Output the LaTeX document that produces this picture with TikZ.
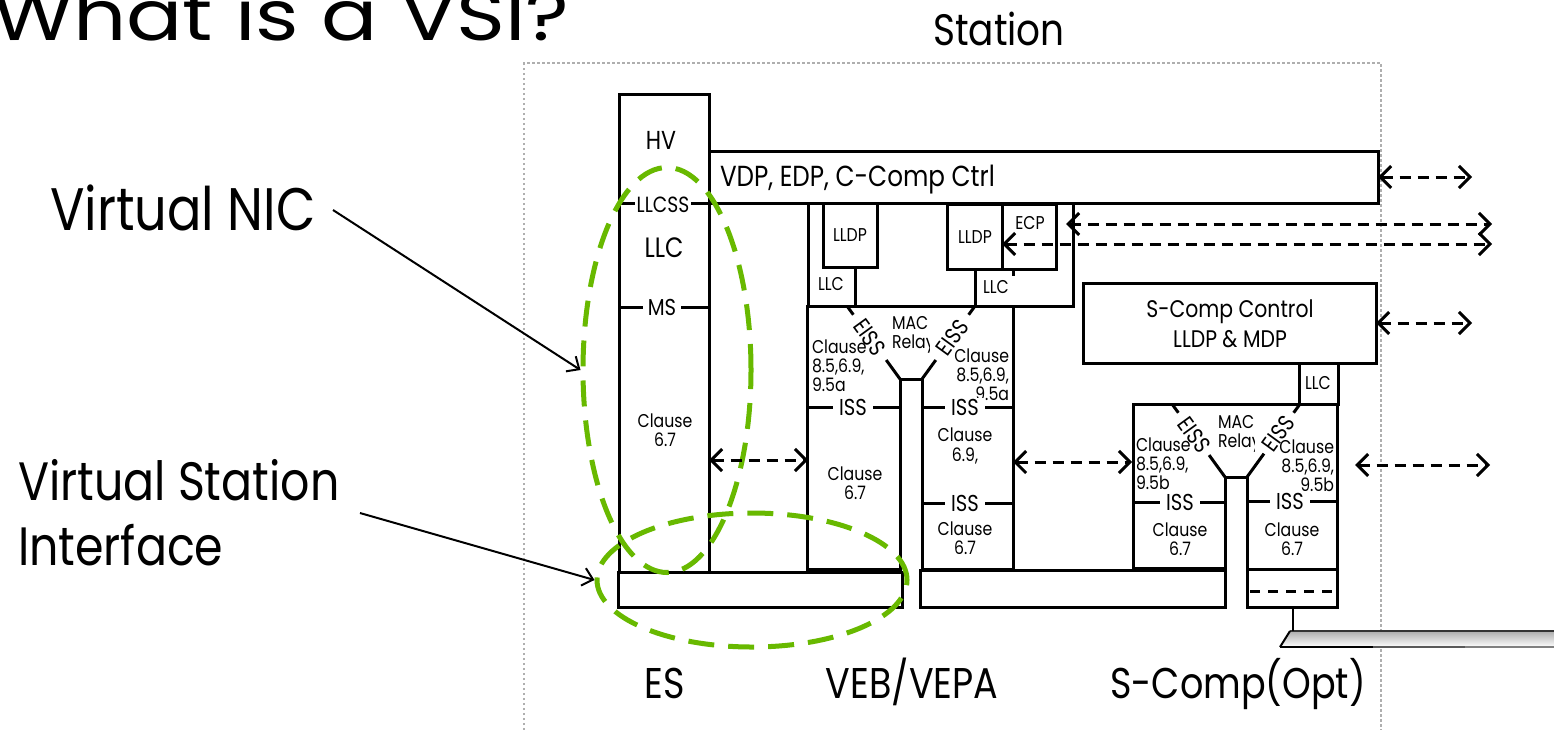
\documentclass[tikz,border=0pt]{standalone}
\usepackage{fontspec}
\setmainfont{Poppins}[FakeStretch=0.85]
\newfontfamily\titlefont{Poppins}[FakeStretch=1.19]
\usetikzlibrary{arrows.meta,calc,shapes.geometric}
\definecolor{vgreen}{RGB}{104,185,0}
\definecolor{dotgray}{RGB}{175,175,175}
\newcommand\fsz[2]{\fontsize{#1}{#2}\selectfont}
\begin{document}
\begin{tikzpicture}[x=1pt,y=-1pt,
  box/.style={draw=black,line width=3pt,fill=white,inner sep=0pt,outer sep=0pt,anchor=north west},
  ln/.style={line width=3pt,line join=miter},
  obarb/.tip={Straight Barb[length=11pt,width=22pt]},
  sbarb/.tip={Straight Barb[length=10pt,width=18pt]},
  darr/.style={line width=3pt,dash pattern=on 11pt off 7pt,arrows=obarb-obarb},
  larr/.style={line width=2pt,arrows=-sbarb},
  txt/.style={inner sep=0pt,outer sep=0pt},
  tiny/.style={txt,align=center,font=\fsz{18.5}{19.5}},
  isslbl/.style={txt,fill=white,inner xsep=6pt,inner ysep=1pt,font=\fsz{23}{25}},
  eiss/.style={txt,font=\fsz{23}{25}},
  grn/.style={draw=vgreen,line width=5pt,dash pattern=on 26pt off 14pt,ellipse,inner sep=0pt}
]
\useasboundingbox (0,0) rectangle (1554,729);

% ---- title and side labels
\node[txt,anchor=base west,font=\titlefont\fsz{70}{76}] (title) at (-8,40) {What is a VSI?};
\node[txt,anchor=base west,font=\fsz{60}{66}] (lnic) at (50,230) {Virtual NIC};
\node[txt,anchor=base west,font=\fsz{54}{60}] (lvsia) at (18,500) {Virtual Station};
\node[txt,anchor=base west,font=\fsz{54}{60}] (lvsib) at (18,565) {Interface};

% ---- station boundary
\draw[dotgray,line width=2.5pt,dash pattern=on 2.5pt off 2.5pt] (524,740) -- (524,63) -- (1381,63) -- (1381,740);
\node[txt,anchor=base,font=\fsz{44}{50}] (stl) at (999,45) {Station};

% ---- cable
\shade[top color=gray!65,bottom color=white] (1280,647) -- (1290,631) -- (1554,631) -- (1554,647) -- cycle;
\draw[line width=2.5pt,gray!40!black] (1290,631) -- (1554,631);
\draw[line width=2pt] (1280,647) -- (1290,631);
\draw[line width=2.5pt] (1280,647) -- (1373,647);
\draw[line width=2.5pt,gray!70!black] (1373,647) -- (1465,647);
\draw[line width=2.5pt,gray] (1465,647) -- (1554,647);
\draw[line width=2pt] (1293,606) -- (1293,631);

% ---- ES column
\node[box,minimum width=90,minimum height=478] (hv) at (619,94) {};
\node[box,minimum width=284,minimum height=35] (esbar) at (618,572) {};
\draw[ln] (619,203) -- (709,203);
\draw[ln] (619,307) -- (709,307);
\node[txt,font=\fsz{26}{30}] (hvt) at (661,140) {HV};
\node[txt,fill=white,inner xsep=2pt,font=\fsz{22}{24}] (llcss) at (663,205) {LLCSS};
\node[txt,font=\fsz{28}{30}] (llct) at (664,248) {LLC};
\node[txt,fill=white,inner xsep=5pt,font=\fsz{23}{25}] (mst) at (662,307) {MS};
\node[tiny] (escl) at (665,430) {Clause\\6.7};

% ---- VDP bar
\node[box,minimum width=669,minimum height=52] (vdp) at (709,151) {};
\node[txt,anchor=base west,font=\fsz{29}{32}] (vdpt) at (720,186) {VDP, EDP, C-Comp Ctrl};

% ---- VEB/VEPA upper LLC / LLDP / ECP
\node[box,minimum width=47,minimum height=103] (lllc) at (808,203) {};
\node[box,minimum width=54,minimum height=64] (llldp) at (823,203) {};
\node[tiny] (llldpt) at (850,235) {LLDP};
\node[tiny] (lllct) at (831,284) {LLC};
\draw[ln] (1013,306) -- (1073,306) -- (1073,203);
\draw[ln] (975,269) -- (975,306);
\draw[ln] (1013,269) -- (1013,276);
\node[box,minimum width=55,minimum height=65] (rlldp) at (947,204) {};
\node[box,minimum width=54,minimum height=65] (recp) at (1002,204) {};
\node[tiny] (rlldpt) at (975,237) {LLDP};
\node[tiny] (recpt) at (1030,223) {ECP};
\node[tiny] (rllct) at (996,287) {LLC};

% ---- VEB/VEPA bridge
\draw[ln] (807,306) -- (1013,306) -- (1013,569) -- (922,569) -- (922,379) -- (900,379) -- (900,569) -- (807,569) -- cycle;
\draw[ln] (807,407) -- (900,407);
\draw[ln] (922,407) -- (1013,407);
\draw[ln] (922,503) -- (1013,503);
\coordinate (va1) at (847,306); \coordinate (vb1) at (900,379);
\coordinate (va2) at (975,306); \coordinate (vb2) at (922,379);
\draw[ln] (va1) -- ($(va1)!0.12!(vb1)$);
\draw[ln] ($(va1)!0.74!(vb1)$) -- (vb1);
\draw[ln] (va2) -- ($(va2)!0.12!(vb2)$);
\draw[ln] ($(va2)!0.74!(vb2)$) -- (vb2);
\node[eiss,rotate=-54] (ve1) at ($(va1)!0.43!(vb1)$) {EISS};
\node[eiss,rotate=54] (ve2) at ($(va2)!0.43!(vb2)$) {EISS};
\begin{scope}
\clip (885,312) rectangle (929,360);
\node[txt,anchor=west,align=left,font=\fsz{18.5}{19}] (vmr) at (892,335) {MAC\\Relay};
\end{scope}
\node[txt,anchor=west,align=left,font=\fsz{18.5}{19}] (vcl1) at (812,366) {Clause\\8.5,6.9,\\9.5a};
\node[txt,anchor=east,align=right,font=\fsz{18.5}{19}] (vcl2) at (1009,375) {Clause\\8.5,6.9,\\9.5a};
\node[isslbl] (viss1) at (853,407) {ISS};
\node[isslbl] (viss2) at (965,407) {ISS};
\node[isslbl] (viss3) at (965,503) {ISS};
\node[tiny] (vcl3) at (855,483) {Clause\\6.7};
\node[tiny] (vcl4) at (965,446) {Clause\\6.9,};
\node[tiny] (vcl5) at (965,538) {Clause\\6.7};
\node[box,minimum width=305,minimum height=37] (bar2) at (920,570) {};

% ---- S-Comp
\node[box,minimum width=293,minimum height=80] (sctrl) at (1083,283) {};
\node[txt,align=center,font=\fsz{24}{30}] (sctrlt) at (1230,324) {S-Comp Control\\LLDP \& MDP};
\node[box,minimum width=39,minimum height=41] (scllc) at (1299,363) {};
\node[tiny] (scllct) at (1318,383) {LLC};
\draw[ln] (1133,404) -- (1337,404) -- (1337,607) -- (1247,607) -- (1247,477) -- (1225,477) -- (1225,568) -- (1133,568) -- cycle;
\draw[ln] (1133,502) -- (1225,502);
\draw[ln] (1247,501) -- (1337,501);
\draw[ln] (1247,569) -- (1337,569);
\draw[line width=3pt,dash pattern=on 10pt off 8pt] (1250,591) -- (1336,591);
\coordinate (sa1) at (1172,404); \coordinate (sb1) at (1225,477);
\coordinate (sa2) at (1300,404); \coordinate (sb2) at (1247,477);
\draw[ln] (sa1) -- ($(sa1)!0.12!(sb1)$);
\draw[ln] ($(sa1)!0.70!(sb1)$) -- (sb1);
\draw[ln] (sa2) -- ($(sa2)!0.12!(sb2)$);
\draw[ln] ($(sa2)!0.68!(sb2)$) -- (sb2);
\node[eiss,rotate=-54] (se1) at ($(sa1)!0.42!(sb1)$) {EISS};
\node[eiss,rotate=54] (se2) at ($(sa2)!0.41!(sb2)$) {EISS};
\begin{scope}
\clip (1210,410) rectangle (1254,455);
\node[txt,anchor=west,align=left,font=\fsz{18.5}{19}] (smr) at (1218,434) {MAC\\Relay};
\end{scope}
\node[txt,anchor=west,align=left,font=\fsz{18.5}{19}] (scl1) at (1136,464) {Clause\\8.5,6.9,\\9.5b};
\node[txt,anchor=east,align=right,font=\fsz{18.5}{19}] (scl2) at (1334,466) {Clause\\8.5,6.9,\\9.5b};
\node[isslbl] (siss1) at (1180,502) {ISS};
\node[isslbl] (siss2) at (1290,501) {ISS};
\node[tiny] (scl3) at (1180,539) {Clause\\6.7};
\node[tiny] (scl4) at (1292,539) {Clause\\6.7};

% ---- bottom labels
\node[txt,anchor=base,font=\fsz{43}{48}] (les) at (665,698) {ES};
\node[txt,anchor=base,font=\fsz{43}{48}] (lveb) at (912,698) {VEB/VEPA};
\node[txt,anchor=base,font=\fsz{43}{48}] (lsc) at (1238,698) {S-Comp(Opt)};

% ---- green ellipses
\node[grn,minimum width=168,minimum height=405] (vnic) at (667,370) {};
\node[grn,minimum width=310,minimum height=134] (vsi) at (752,580) {};

% ---- label arrows
\coordinate (nicfrom) at (333,210);
\coordinate (vsifrom) at (360,513);
\draw[larr] (nicfrom) -- (vnic.west);
\draw[larr] (vsifrom) -- (vsi.west);

% ---- dashed arrows
\coordinate (a1r) at (808,460);
\draw[darr] (hv.east |- a1r) -- (a1r);
\coordinate (a2l) at (1013,462); \coordinate (a2r) at (1132,462);
\draw[darr] (a2l) -- (a2r);
\coordinate (a3l) at (1355,465); \coordinate (a3r) at (1490,465);
\draw[darr] (a3l) -- (a3r);
\coordinate (a4r) at (1472,177);
\draw[darr] (vdp.east) -- (a4r);
\coordinate (a5r) at (1472,323);
\draw[darr] (sctrl.east) -- (a5r);
\coordinate (a6l) at (1066,224); \coordinate (a6r) at (1492,224);
\draw[darr] (a6l) -- (a6r);
\coordinate (a7r) at (1492,244);
\draw[darr] (rlldp.east |- a7r) -- (a7r);
\end{tikzpicture}
\end{document}
